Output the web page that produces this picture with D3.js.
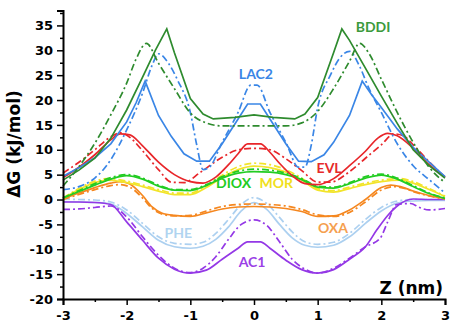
<!DOCTYPE html>
<html>
<head>
<meta charset="utf-8">
<script src="https://cdn.jsdelivr.net/npm/d3@7"></script>
<style>
  html, body { margin: 0; padding: 0; background: #fff; }
  .axis text { font-family: "DejaVu Sans", sans-serif; font-weight: bold; font-size: 13px; fill: #000; }
  .axis path, .axis line { stroke: #000; }
  .lbl { font-family: Lato, "Open Sans", sans-serif; font-weight: bold; font-size: 14px; text-anchor: middle; }
  .title { font-family: "DejaVu Sans", sans-serif; font-weight: bold; font-size: 17px; }
</style>
</head>
<body>
<div id="wrapper"></div>
<script>
// values, [z (nm), dG (kJ/mol)]
const bddiSolid = [[-3,3.9],[-2.75,5.9],[-2.5,8.3],[-2.25,12.3],[-2,18],[-1.75,24.6],[-1.55,30],[-1.37,34.3],[-1.25,29.5],[-1,20.3],[-0.8,17.2],[-0.64,16.2],[-0.3,16.5],[0,17],[0.3,16.5],[0.64,16.2],[0.8,17.2],[1,20.5],[1.25,29.5],[1.38,34.3],[1.5,32],[1.75,26.4],[2,20.8],[2.25,15.3],[2.5,10],[2.75,6.8],[3,4.3]];
const bddiDash = [[-3,2.7],[-2.75,6.6],[-2.5,11.3],[-2.25,17],[-2,23.4],[-1.85,28.3],[-1.69,31.4],[-1.5,27.4],[-1.25,22.3],[-1,17.4],[-0.75,15.4],[-0.5,14.8],[0,14.8],[0.5,14.8],[0.75,15.4],[1,17.7],[1.25,22.3],[1.5,27.8],[1.66,31.4],[1.8,29.5],[2,24.2],[2.25,17.5],[2.5,11.5],[2.75,6.5],[3,3.4]];
const lac2Solid = [[-3,4.7],[-2.75,6.4],[-2.5,8.4],[-2.25,11.2],[-2,15.6],[-1.85,19.5],[-1.71,23.8],[-1.5,16.9],[-1.3,12.7],[-1.1,9.2],[-0.9,7.7],[-0.7,7.7],[-0.5,11.2],[-0.25,16.2],[-0.1,19.2],[0.1,19.2],[0.25,16.2],[0.5,11.2],[0.7,7.7],[0.9,7.6],[1.1,9],[1.25,11.5],[1.5,16.9],[1.7,23.8],[1.85,21],[2,18.5],[2.25,14.2],[2.5,10.5],[2.75,7.5],[3,4.6]];
const lac2Dash = [[-3,2],[-2.75,2.6],[-2.5,4.3],[-2.25,8],[-2,14],[-1.75,21.4],[-1.6,27],[-1.5,29.3],[-1.35,27.5],[-1.2,24],[-1,17.5],[-0.9,11],[-0.8,6],[-0.7,6.5],[-0.5,11.5],[-0.25,17.5],[-0.05,23],[0.05,23],[0.25,17.5],[0.5,11.5],[0.7,6.5],[0.8,6.5],[0.9,11],[1,18.5],[1.2,25],[1.35,28.5],[1.5,29.8],[1.65,27],[1.8,22.5],[2,17.5],[2.25,11.2],[2.5,6.8],[2.75,4],[3,1.3]];
const evlSolid = [[-3,4.4],[-2.75,6.5],[-2.5,9],[-2.25,12],[-2.1,13.2],[-1.95,13],[-1.75,10.8],[-1.5,7.5],[-1.25,5],[-1,3.6],[-0.8,3.3],[-0.6,4.5],[-0.4,7],[-0.25,9.2],[-0.1,11.2],[0.1,11.2],[0.25,9.5],[0.4,7.3],[0.6,4.8],[0.8,3.2],[1,3],[1.25,4.2],[1.5,6.8],[1.75,9.7],[1.95,12.4],[2.1,13.3],[2.25,12.8],[2.5,10.3],[2.75,7],[3,4.5]];
const evlDash = [[-3,5.3],[-2.75,7.5],[-2.5,10],[-2.25,12.6],[-2.1,13.4],[-1.95,12.5],[-1.75,9.8],[-1.5,6],[-1.3,3.5],[-1.1,3.4],[-0.85,5.4],[-0.5,8.5],[-0.25,10],[0,10.3],[0.25,10],[0.5,8.2],[0.75,5.8],[1,3.5],[1.2,3.5],[1.5,5.6],[1.75,8.3],[2,11],[2.2,13.2],[2.35,12.8],[2.5,11],[2.75,7.6],[3,4.5]];
const dioxSolid = [[-3,0.3],[-2.75,1.6],[-2.5,2.9],[-2.25,4.1],[-2,4.8],[-1.75,4.1],[-1.5,2.7],[-1.25,1.9],[-1,1.8],[-0.75,2.8],[-0.5,4.3],[-0.25,5.3],[0,5.6],[0.25,5.5],[0.5,5],[0.75,4],[1,2.5],[1.25,2.3],[1.5,3.2],[1.75,4.3],[2,4.9],[2.25,4.1],[2.5,2.6],[2.75,1.2],[3,0.2]];
const dioxDash = [[-3,0.3],[-2.75,1.8],[-2.5,3.2],[-2.25,4.4],[-2,5],[-1.75,4.3],[-1.5,2.9],[-1.25,2],[-1,2],[-0.75,3],[-0.5,4.6],[-0.25,5.7],[0,6.1],[0.25,5.9],[0.5,5.3],[0.75,4.2],[1,2.7],[1.25,2.5],[1.5,3.4],[1.75,4.6],[2,5.1],[2.25,4.3],[2.5,2.8],[2.75,1.3],[3,0.3]];
const morSolid = [[-3,0.2],[-2.75,2],[-2.5,3.4],[-2.3,3.9],[-2,3.4],[-1.75,2.6],[-1.5,1.7],[-1.25,1],[-1,1],[-0.75,2.4],[-0.5,4.4],[-0.25,6],[0,6.7],[0.25,6.4],[0.5,5.5],[0.75,3.9],[1,1.9],[1.25,1.5],[1.5,2.2],[1.75,3],[2,3.6],[2.3,3.9],[2.5,3.3],[2.75,2],[3,0.6]];
const morDash = [[-3,0.3],[-2.75,2.2],[-2.5,3.7],[-2.3,4.2],[-2,3.7],[-1.75,2.9],[-1.5,2],[-1.25,1.3],[-1,1.3],[-0.75,2.8],[-0.5,4.9],[-0.25,6.6],[0,7.3],[0.25,7],[0.5,6],[0.75,4.3],[1,2.2],[1.25,1.8],[1.5,2.5],[1.75,3.3],[2,3.9],[2.3,4.2],[2.5,3.6],[2.75,2.2],[3,0.7]];
const oxaSolid = [[-3,0.1],[-2.75,1.3],[-2.5,2.4],[-2.25,3.3],[-2.1,3.6],[-1.95,3.1],[-1.75,0.8],[-1.6,-1.5],[-1.45,-2.7],[-1.25,-3.2],[-1,-3.4],[-0.75,-2.7],[-0.5,-1.9],[-0.25,-1.5],[0,-1.4],[0.25,-1.5],[0.5,-1.8],[0.75,-2.4],[1,-3.4],[1.25,-3.3],[1.5,-2.1],[1.75,0],[2,2.4],[2.15,2.9],[2.3,2.6],[2.5,1.7],[2.75,0.8],[3,0.2]];
const oxaDash = [[-3,0],[-2.75,1],[-2.5,2],[-2.25,2.8],[-2.1,3],[-1.95,2.5],[-1.75,0.3],[-1.6,-1.8],[-1.45,-2.9],[-1.25,-3.3],[-1,-3.2],[-0.75,-2.3],[-0.5,-1.4],[-0.25,-1],[0,-0.9],[0.25,-1],[0.5,-1.3],[0.75,-2],[1,-3.1],[1.25,-3.4],[1.5,-2.6],[1.75,-0.5],[2,1.9],[2.2,2.6],[2.35,2.3],[2.5,1.6],[2.75,0.7],[3,0.1]];
const pheSolid = [[-3,-0.4],[-2.75,-0.5],[-2.5,-0.6],[-2.25,-0.9],[-2,-2.8],[-1.75,-5.5],[-1.5,-8.2],[-1.25,-9.5],[-1,-9.8],[-0.8,-9.4],[-0.6,-8],[-0.4,-5.5],[-0.2,-2.3],[0,-0.6],[0.2,-2],[0.4,-5],[0.6,-7.7],[0.8,-9.2],[1,-9.6],[1.25,-9.2],[1.5,-7.5],[1.75,-4.8],[2,-2.3],[2.25,-0.7],[2.5,-0.3],[2.75,-0.2],[3,-0.2]];
const pheDash = [[-3,0.1],[-2.75,0],[-2.5,-0.1],[-2.25,-0.5],[-2,-2.1],[-1.75,-4.8],[-1.5,-7.5],[-1.25,-8.8],[-1,-9],[-0.8,-8.6],[-0.6,-6.8],[-0.4,-4],[-0.2,-1],[0,0.4],[0.2,-0.8],[0.4,-3.6],[0.6,-6.5],[0.8,-8.5],[1,-9],[1.25,-8.6],[1.5,-6.8],[1.75,-4],[2,-1.6],[2.25,-0.3],[2.5,0],[2.75,0],[3,0]];
const ac1Solid = [[-3,-0.5],[-2.75,-0.5],[-2.5,-0.6],[-2.25,-1],[-2,-4.5],[-1.75,-8.2],[-1.5,-11.8],[-1.25,-14],[-1,-14.8],[-0.75,-14.2],[-0.5,-12],[-0.25,-9.8],[-0.1,-8.5],[0.1,-8.5],[0.25,-9.8],[0.5,-12.2],[0.75,-14.1],[1,-14.8],[1.25,-14.1],[1.5,-12],[1.75,-9.5],[1.93,-6.1],[2.1,-3.2],[2.24,-1.4],[2.5,0.1],[2.75,0],[3,0]];
const ac1Dash = [[-3,-2],[-2.75,-1.9],[-2.5,-1.6],[-2.25,-1.3],[-2,-3.5],[-1.75,-7.5],[-1.5,-11.2],[-1.25,-13.8],[-1,-14.7],[-0.8,-13.8],[-0.6,-11.5],[-0.4,-8],[-0.2,-5],[0,-4.1],[0.2,-5.2],[0.4,-8.5],[0.6,-12],[0.8,-14],[1,-14.8],[1.25,-13.8],[1.5,-11.8],[1.75,-9.5],[1.98,-7.8],[2.1,-4.5],[2.24,-1],[2.46,-0.8],[2.6,-1.6],[2.75,-2.1],[3,-1.8]];

const series = [
  { name: "PHE", color: "#acd0f0", solid: pheSolid, dash: pheDash },
  { name: "AC1", color: "#9438e6", solid: ac1Solid, dash: ac1Dash },
  { name: "OXA", color: "#f5871f", solid: oxaSolid, dash: oxaDash },
  { name: "MOR", color: "#f2e42a", solid: morSolid, dash: morDash },
  { name: "DIOX", color: "#22cc22", solid: dioxSolid, dash: dioxDash },
  { name: "EVL", color: "#e8262a", solid: evlSolid, dash: evlDash },
  { name: "LAC2", color: "#3a86e6", solid: lac2Solid, dash: lac2Dash, sharp: true },
  { name: "BDDI", color: "#2e8b2e", solid: bddiSolid, dash: bddiDash, sharp: true }
];

// curve labels: [name, z, dG, colour]
const labels = [
  ["BDDI", 1.87, 33.7, "#3c9a3c"],
  ["LAC2", 0.03, 24.2, "#3a86e6"],
  ["EVL", 1.18, 5.3, "#e62a2a"],
  ["DIOX", -0.32, 2.3, "#22cc22"],
  ["MOR", 0.35, 2.3, "#f0e020"],
  ["OXA", 1.24, -6.7, "#f5a050"],
  ["PHE", -1.19, -7.7, "#b0d4f0"],
  ["AC1", -0.03, -13.6, "#9a40e6"]
];

const yMajor = d3.range(-20, 36, 5);
const yMinor = d3.range(-17.5, 38, 5);
const xMajor = [-3, -2, -1, 0, 1, 2, 3];
const xMinor = [-2.5, -1.5, -0.5, 0.5, 1.5, 2.5];

const width = 451, height = 323;
const x = d3.scaleLinear().domain([-3, 3]).range([63, 445]);
const y = d3.scaleLinear().domain([-20, 38]).range([299, 10.5]);

const svg = d3.select("#wrapper").append("svg")
  .attr("width", width)
  .attr("height", height);

const line = d3.line()
  .x(d => x(d[0]))
  .y(d => y(d[1]));

const g = svg.append("g").attr("fill", "none").attr("stroke-width", 1.7);

series.forEach(s => {
  g.append("path")
    .attr("d", line.curve(d3.curveMonotoneX)(s.dash))
    .attr("stroke", s.color)
    .attr("stroke-dasharray", "7 3 2 3");
  g.append("path")
    .attr("d", line.curve(s.sharp ? d3.curveLinear : d3.curveMonotoneX)(s.solid))
    .attr("stroke", s.color);
});

svg.append("g").selectAll("text")
  .data(labels)
  .join("text")
  .attr("class", "lbl")
  .attr("x", d => x(d[1]))
  .attr("y", d => y(d[2]))
  .attr("fill", d => d[3])
  .text(d => d[0]);

// axes
svg.append("g")
  .attr("class", "axis")
  .attr("transform", "translate(63,0)")
  .call(d3.axisLeft(y).tickValues(yMajor).tickSize(6).tickPadding(4).tickFormat(d => String(d)));
svg.append("g")
  .attr("class", "axis")
  .attr("transform", "translate(63,0)")
  .call(d3.axisLeft(y).tickValues(yMinor).tickSize(3).tickFormat(""))
  .select(".domain").remove();

svg.append("g")
  .attr("class", "axis")
  .attr("transform", "translate(0,299)")
  .call(d3.axisBottom(x).tickValues(xMajor).tickSize(6).tickPadding(6).tickFormat(d => String(d)));
svg.append("g")
  .attr("class", "axis")
  .attr("transform", "translate(0,299)")
  .call(d3.axisBottom(x).tickValues(xMinor).tickSize(3).tickFormat(""))
  .select(".domain").remove();

svg.selectAll(".axis .domain").attr("stroke-width", 2);
svg.selectAll(".axis line").attr("stroke-width", 1.5);

svg.append("text")
  .attr("class", "title")
  .attr("transform", "translate(20,144) rotate(-90)")
  .attr("text-anchor", "middle")
  .text("ΔG (kJ/mol)");

svg.append("text")
  .attr("class", "title")
  .attr("x", 443)
  .attr("y", 294)
  .attr("text-anchor", "end")
  .text("Z (nm)");
</script>
</body>
</html>
